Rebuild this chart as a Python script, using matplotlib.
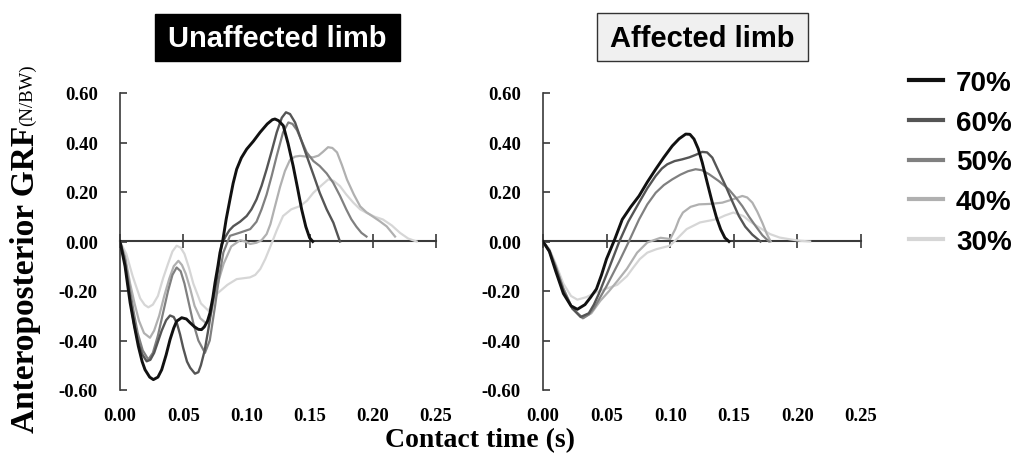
import matplotlib
matplotlib.use('Agg')
import matplotlib.pyplot as plt
from matplotlib.patches import Rectangle


#%% Data (time in s, force in N/BW).
speeds = ['70%', '60%', '50%', '40%', '30%']

u70_t = [0, 0.004, 0.008, 0.0115, 0.0145, 0.0175, 0.0198, 0.0235, 0.0264, 0.030, 0.033, 0.0365,
         0.0396, 0.0425, 0.0448, 0.0488, 0.0525, 0.0554, 0.059, 0.062, 0.0645, 0.0667, 0.0692,
         0.0712, 0.0735, 0.0752, 0.0775, 0.0791, 0.0812, 0.084, 0.087, 0.0895, 0.0923, 0.096,
         0.1002, 0.1055, 0.1108, 0.1165, 0.1205, 0.1226, 0.1255, 0.1292, 0.133, 0.137, 0.1405,
         0.1437, 0.147, 0.150, 0.1525]
u70 = [0, -0.10, -0.247, -0.345, -0.423, -0.485, -0.518, -0.548, -0.558, -0.548, -0.518, -0.458,
       -0.396, -0.350, -0.322, -0.308, -0.313, -0.328, -0.345, -0.355, -0.356, -0.345, -0.322,
       -0.288, -0.225, -0.166, -0.098, -0.045, 0.0, 0.09, 0.17, 0.235, 0.292, 0.338,
       0.373, 0.405, 0.441, 0.475, 0.492, 0.495, 0.488, 0.468, 0.395, 0.305, 0.215,
       0.13, 0.06, 0.015, 0.0]

u60_t = [0, 0.004, 0.008, 0.011, 0.014, 0.0175, 0.0211, 0.024, 0.027, 0.030, 0.033, 0.0365, 0.0396,
         0.0425, 0.045, 0.0475, 0.05, 0.053, 0.0555, 0.0593, 0.062, 0.064, 0.067, 0.0699, 0.073,
         0.0765, 0.0804, 0.0835, 0.0865, 0.0897, 0.095, 0.1002, 0.104, 0.108, 0.112, 0.116, 0.120,
         0.124, 0.128, 0.1313, 0.1345, 0.1385, 0.143, 0.1477, 0.153, 0.158, 0.1635, 0.1688, 0.174]
u60 = [0, -0.09, -0.23, -0.33, -0.40, -0.455, -0.484, -0.478, -0.45, -0.405, -0.36, -0.318, -0.299,
       -0.305, -0.33, -0.375, -0.43, -0.485, -0.51, -0.534, -0.528, -0.50, -0.44, -0.355, -0.255,
       -0.153, -0.011, 0.02, 0.045, 0.062, 0.08, 0.103, 0.13, 0.17, 0.225, 0.292, 0.365,
       0.441, 0.50, 0.522, 0.515, 0.481, 0.415, 0.346, 0.27, 0.197, 0.13, 0.076, 0.0]

u50_t = [0, 0.004, 0.008, 0.011, 0.014, 0.018, 0.0224, 0.026, 0.030, 0.034, 0.038, 0.0415, 0.0448,
         0.048, 0.051, 0.0545, 0.058, 0.062, 0.0672, 0.071, 0.0752, 0.0785, 0.0818, 0.087, 0.095,
         0.103, 0.108, 0.112, 0.116, 0.120, 0.124, 0.129, 0.1332, 0.1365, 0.140, 0.1477, 0.153,
         0.158, 0.1635, 0.1686, 0.174, 0.179, 0.183, 0.187, 0.191, 0.195]
u50 = [0, -0.07, -0.20, -0.29, -0.37, -0.44, -0.477, -0.45, -0.38, -0.29, -0.20, -0.135, -0.105,
       -0.12, -0.17, -0.25, -0.33, -0.40, -0.45, -0.40, -0.261, -0.14, -0.044, 0.023, 0.036,
       0.05, 0.08, 0.13, 0.19, 0.265, 0.346, 0.441, 0.481, 0.475, 0.45, 0.36, 0.325,
       0.305, 0.275, 0.238, 0.185, 0.13, 0.09, 0.06, 0.035, 0.02]

u40_t = [0, 0.004, 0.008, 0.0115, 0.015, 0.019, 0.0237, 0.027, 0.031, 0.035, 0.039, 0.0425, 0.0462,
         0.049, 0.052, 0.0555, 0.059, 0.0635, 0.068, 0.0715, 0.075, 0.0785, 0.082, 0.088, 0.095,
         0.099, 0.103, 0.108, 0.112, 0.116, 0.119, 0.122, 0.1266, 0.1305, 0.1345, 0.1385, 0.1424,
         0.1475, 0.1527, 0.157, 0.1605, 0.1646, 0.168, 0.1717, 0.1755, 0.1796, 0.185, 0.190,
         0.195, 0.200, 0.2055, 0.211, 0.2176]
u40 = [0, -0.06, -0.17, -0.25, -0.32, -0.37, -0.389, -0.36, -0.30, -0.22, -0.15, -0.10, -0.078,
       -0.095, -0.13, -0.19, -0.26, -0.31, -0.33, -0.30, -0.22, -0.15, -0.09, -0.02, 0.005,
       0.0, -0.01, -0.005, 0.005, 0.03, 0.07, 0.13, 0.22, 0.285, 0.33, 0.343, 0.346,
       0.343, 0.34, 0.347, 0.362, 0.381, 0.378, 0.36, 0.31, 0.25, 0.19, 0.142,
       0.118, 0.101, 0.082, 0.061, 0.02]

u30_t = [0, 0.005, 0.010, 0.016, 0.0195, 0.0224, 0.026, 0.030, 0.034, 0.038, 0.0415, 0.0448, 0.048,
         0.051, 0.0545, 0.058, 0.064, 0.070, 0.0735, 0.077, 0.085, 0.0923, 0.1028, 0.107, 0.111,
         0.115, 0.119, 0.124, 0.129, 0.1355, 0.1424, 0.148, 0.153, 0.159, 0.1648, 0.169, 0.174,
         0.179, 0.1846, 0.190, 0.195, 0.2015, 0.208, 0.215, 0.2215, 0.228, 0.2347]
u30 = [0, -0.05, -0.14, -0.23, -0.256, -0.266, -0.255, -0.22, -0.15, -0.09, -0.04, -0.017, -0.025,
       -0.05, -0.105, -0.17, -0.25, -0.28, -0.245, -0.21, -0.175, -0.152, -0.145, -0.135, -0.111,
       -0.07, -0.02, 0.045, 0.103, 0.13, 0.143, 0.165, 0.197, 0.225, 0.251, 0.245, 0.224,
       0.19, 0.157, 0.13, 0.116, 0.10, 0.089, 0.065, 0.035, 0.012, 0.0]

a70_t = [0, 0.005, 0.010, 0.016, 0.022, 0.027, 0.033, 0.0375, 0.042, 0.046, 0.0499, 0.0564, 0.0623,
         0.069, 0.0755, 0.082, 0.0886, 0.095, 0.1016, 0.107, 0.1122, 0.1155, 0.1187, 0.122,
         0.1252, 0.129, 0.1331, 0.1365, 0.1397, 0.143, 0.1462]
a70 = [0, -0.04, -0.12, -0.21, -0.26, -0.274, -0.255, -0.225, -0.192, -0.135, -0.071, 0.009, 0.089,
       0.14, 0.184, 0.24, 0.292, 0.34, 0.386, 0.415, 0.434, 0.433, 0.414, 0.375,
       0.319, 0.24, 0.157, 0.095, 0.049, 0.015, 0.0]

a60_t = [0, 0.005, 0.010, 0.016, 0.023, 0.0296, 0.036, 0.040, 0.044, 0.0475, 0.051, 0.0555, 0.060,
         0.067, 0.0755, 0.082, 0.0886, 0.0935, 0.0977, 0.1035, 0.1095, 0.115, 0.120, 0.1252,
         0.129, 0.1331, 0.138, 0.1436, 0.149, 0.154, 0.159, 0.1645, 0.171]
a60 = [0, -0.04, -0.11, -0.20, -0.27, -0.305, -0.29, -0.255, -0.21, -0.165, -0.12, -0.06, 0.0,
       0.08, 0.157, 0.215, 0.265, 0.295, 0.312, 0.325, 0.332, 0.34, 0.35, 0.362,
       0.36, 0.339, 0.285, 0.224, 0.16, 0.103, 0.06, 0.028, 0.0]

a50_t = [0, 0.005, 0.010, 0.016, 0.023, 0.0315, 0.036, 0.040, 0.045, 0.050, 0.055, 0.060, 0.0675,
         0.0755, 0.082, 0.0886, 0.095, 0.1016, 0.108, 0.114, 0.120, 0.125, 0.1305, 0.138, 0.146,
         0.1515, 0.1567, 0.162, 0.1672, 0.1725, 0.1777]
a50 = [0, -0.035, -0.10, -0.19, -0.27, -0.31, -0.295, -0.27, -0.225, -0.18, -0.13, -0.08, 0.0,
       0.089, 0.15, 0.197, 0.228, 0.251, 0.27, 0.284, 0.292, 0.288, 0.272, 0.245, 0.211,
       0.178, 0.143, 0.1, 0.062, 0.025, 0.0]

a40_t = [0, 0.005, 0.010, 0.016, 0.023, 0.031, 0.038, 0.045, 0.052, 0.0584, 0.066, 0.074, 0.082,
         0.0924, 0.100, 0.104, 0.107, 0.110, 0.116, 0.1226, 0.132, 0.141, 0.149, 0.1567, 0.1605,
         0.1646, 0.1685, 0.1724, 0.176, 0.179]
a40 = [0, -0.035, -0.10, -0.19, -0.27, -0.31, -0.29, -0.24, -0.20, -0.16, -0.11, -0.045, -0.004,
       0.015, 0.01, 0.05, 0.09, 0.117, 0.14, 0.15, 0.152, 0.157, 0.17, 0.184, 0.178,
       0.157, 0.12, 0.076, 0.03, 0.0]

a30_t = [0, 0.005, 0.010, 0.016, 0.022, 0.027, 0.034, 0.042, 0.050, 0.0584, 0.066, 0.071, 0.0761,
         0.082, 0.0892, 0.0997, 0.105, 0.1129, 0.1234, 0.1365, 0.143, 0.1496, 0.1575, 0.163,
         0.168, 0.1785, 0.186, 0.194, 0.202, 0.210]
a30 = [0, -0.03, -0.09, -0.17, -0.22, -0.235, -0.225, -0.205, -0.19, -0.175, -0.14, -0.105, -0.071,
       -0.045, -0.031, -0.017, 0.009, 0.05, 0.077, 0.09, 0.105, 0.117, 0.103, 0.08,
       0.063, 0.03, 0.016, 0.009, 0.003, 0.0]

unaffected = [(u70_t, u70), (u60_t, u60), (u50_t, u50), (u40_t, u40), (u30_t, u30)]
affected = [(a70_t, a70), (a60_t, a60), (a50_t, a50), (a40_t, a40), (a30_t, a30)]

xticks = [0.00, 0.05, 0.10, 0.15, 0.20, 0.25]
xlabels = ['0.00', '0.05', '0.10', '0.15', '0.20', '0.25']
yticks = [-0.6, -0.4, -0.2, 0.0, 0.2, 0.4, 0.6]
ylabels = ['-0.60', '-0.40', '-0.20', '0.00', '0.20', '0.40', '0.60']

colors = ['#111111', '#555555', '#808080', '#b0b0b0', '#d6d6d6']
widths = [2.1, 1.7, 1.6, 1.6, 1.6]
axcol = '#3a3a3a'
serif = 'Liberation Serif'
sans = 'Liberation Sans'


def style_axes(ax):

    ax.set_xlim(0, 0.25)
    ax.set_ylim(-0.6, 0.6)
    for s in ['top', 'right', 'bottom']:
        ax.spines[s].set_visible(False)
    ax.spines['left'].set_color(axcol)
    ax.spines['left'].set_linewidth(1.2)

    ax.set_yticks(yticks, labels=ylabels)
    ax.tick_params(axis='y', direction='in', length=5, width=1.2, color=axcol, pad=16)
    ax.set_xticks(xticks, labels=xlabels)
    ax.tick_params(axis='x', length=0, pad=12)
    for lab in ax.get_xticklabels() + ax.get_yticklabels():
        lab.set_fontfamily(serif)
        lab.set_fontweight('bold')
        lab.set_fontsize(13.5)

    # zero line with crossing ticks
    sec = ax.secondary_xaxis(0.5)
    sec.set_xticks(xticks)
    sec.tick_params(direction='inout', length=10, width=1.2, color=axcol,
                    labeltop=False, labelbottom=False)
    for s in sec.spines.values():
        s.set_color(axcol)
        s.set_linewidth(1.5)


fig = plt.figure(figsize=(10.14, 4.64), dpi=100)
ax1 = fig.add_axes([120/1014, 1-391/464, 316/1014, 297/464])
ax2 = fig.add_axes([543/1014, 1-391/464, 318/1014, 297/464])

for i in range(len(speeds)):
    t, f = unaffected[i]
    ax1.plot(t, f, c=colors[i], lw=widths[i], zorder=10-i, solid_joinstyle='round')
    t, f = affected[i]
    ax2.plot(t, f, c=colors[i], lw=widths[i], zorder=10-i, solid_joinstyle='round',
             label=speeds[i])

style_axes(ax1)
style_axes(ax2)


#%% Panel titles.
fig.add_artist(Rectangle((155/1014, 1-62/464), 245/1014, 47/464, transform=fig.transFigure,
                         facecolor='black', edgecolor='black'))
fig.text(277.5/1014, 1-39/464, 'Unaffected limb', color='white', family=sans,
         weight='bold', fontsize=21, ha='center', va='center')

fig.add_artist(Rectangle((597/1014, 1-62/464), 211/1014, 48/464, transform=fig.transFigure,
                         facecolor='#f0f0f0', edgecolor='#333333', lw=1.0))
fig.text(702.5/1014, 1-39/464, 'Affected limb', color='black', family=sans,
         weight='bold', fontsize=21, ha='center', va='center')


#%% Axis labels.
fig.text(26/1014, 1-433/464, 'Anteroposterior GRF', rotation=90, family=serif, weight='bold',
         fontsize=24, ha='center', va='bottom')
fig.text(27/1014, 1-64/464, '(N/BW)', rotation=90, family=serif, fontsize=13.5,
         ha='center', va='top')
fig.text(480/1014, 1-441/464, 'Contact time (s)', family=serif, weight='bold', fontsize=20,
         ha='center', va='center')


#%% Legend.
leg = fig.legend(loc='upper left', bbox_to_anchor=(898/1014, 1-60/464), frameon=False,
                 prop={'family': sans, 'weight': 'bold', 'size': 20}, handlelength=1.22,
                 handletextpad=0.47, labelspacing=0.49, borderaxespad=0)
for h in leg.get_lines():
    h.set_linewidth(3)

plt.savefig('out.png', dpi=100)
